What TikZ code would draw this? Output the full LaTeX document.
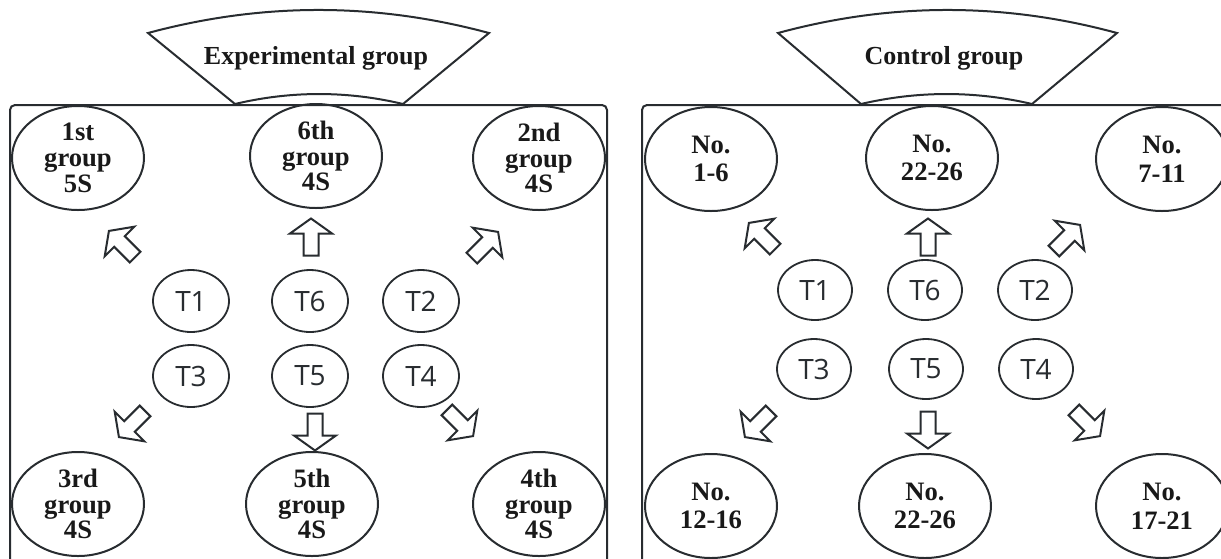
\documentclass[tikz,border=0pt]{standalone}
\usepackage{fontspec}
\setmainfont{Liberation Serif}
\newfontfamily\tfont{Open Sans}
\usetikzlibrary{shapes.geometric}
\definecolor{ink}{RGB}{40,44,48}
\definecolor{txt}{RGB}{25,25,25}
\tikzset{
  frame/.style={draw=ink, line width=1pt, rounded corners=2.5pt},
  banner/.style={draw=ink, line width=1pt, line join=miter},
  grp/.style={ellipse, draw=ink, line width=1pt, inner sep=0pt, minimum width=66pt, minimum height=52pt,
    align=center, text=txt, font=\fontsize{13.3pt}{12.9pt}\selectfont\bfseries},
  nogrp/.style={grp, font=\fontsize{13.3pt}{14.3pt}\selectfont\bfseries},
  tnode/.style={ellipse, draw=ink, line width=0.9pt, inner sep=0pt, minimum width=38pt, minimum height=31pt,
    text=ink, font=\tfont\fontsize{14pt}{14pt}\selectfont},
  tnoder/.style={tnode, minimum width=37pt, minimum height=30pt},
  title/.style={text=txt, font=\fontsize{13pt}{14pt}\selectfont\bfseries},
  arrowline/.style={draw=ink, line width=1pt, line join=miter, fill=white},
  blockarrow/.pic={\draw[arrowline] (-18.5,-7.5) -- (3.5,-7.5) -- (3.5,-21) -- (18.5,0) -- (3.5,21) -- (3.5,7.5) -- (-18.5,7.5) -- cycle;}
}
\begin{document}
\begin{tikzpicture}[x={(0.5pt,0)}, y={(0,-0.5pt)}]
\useasboundingbox (0,0) rectangle (1221,558);
\clip (0,0) rectangle (1221,558);
% panels
\draw[frame] (10,590) -- (10,105) -- (607,105) -- (607,590);
\draw[frame] (642,590) -- (642,105) -- (1260,105);
% banners
\draw[banner] (148,33) .. controls (262,2.3) and (375,2.3) .. (489,33) -- (403,104)
  .. controls (347,90.7) and (291,90.7) .. (235,104) -- cycle;
\node[title] (exptitle) at (316,58) {Experimental group};
\draw[banner] (778,33) .. controls (891,2.3) and (1004,2.3) .. (1117,33) -- (1032,104)
  .. controls (975,90.7) and (918,90.7) .. (861,104) -- cycle;
\node[title] (ctltitle) at (944,58) {Control group};
% left groups
\node[grp] (g1) at (78,158) {1st\\group\\5S};
\node[grp] (g6) at (316,156) {6th\\group\\4S};
\node[grp] (g2) at (539,158) {2nd\\group\\4S};
\node[grp] (g3) at (78,504) {3rd\\group\\4S};
\node[grp] (g5) at (312,504) {5th\\group\\4S};
\node[grp] (g4) at (539,504) {4th\\group\\4S};
% left teachers
\node[tnode] (lt1) at (191,301) {T1};
\node[tnode] (lt6) at (310,301) {T6};
\node[tnode] (lt2) at (421,301) {T2};
\node[tnode] (lt3) at (191,376) {T3};
\node[tnode] (lt5) at (310,376) {T5};
\node[tnode] (lt4) at (421,376) {T4};
% left arrows
\pic[rotate=135] at (122,244) {blockarrow};
\pic[rotate=90] at (311,237) {blockarrow};
\pic[rotate=45] at (485,245) {blockarrow};
\pic[rotate=225] at (132,424) {blockarrow};
\pic[rotate=270] at (315,432) {blockarrow};
\pic[rotate=315] at (460,423) {blockarrow};
% right groups
\node[nogrp] (c1) at (711,159) {No.\\1-6};
\node[nogrp] (c6) at (932,158) {No.\\22-26};
\node[nogrp] (c2) at (1162,159) {No.\\7-11};
\node[nogrp] (c3) at (711,506) {No.\\12-16};
\node[nogrp] (c5) at (925,506) {No.\\22-26};
\node[nogrp] (c4) at (1162,506) {No.\\17-21};
% right teachers
\node[tnoder] (rt1) at (815,290) {T1};
\node[tnoder] (rt6) at (925,290) {T6};
\node[tnoder] (rt2) at (1035,290) {T2};
\node[tnoder] (rt3) at (814,369) {T3};
\node[tnoder] (rt5) at (926,369) {T5};
\node[tnoder] (rt4) at (1036,369) {T4};
% right arrows
\pic[rotate=135] at (762,236) {blockarrow};
\pic[rotate=90] at (928,237) {blockarrow};
\pic[rotate=45] at (1067,238) {blockarrow};
\pic[rotate=225] at (758,424) {blockarrow};
\pic[rotate=270] at (928,430) {blockarrow};
\pic[rotate=315] at (1087,423) {blockarrow};
\end{tikzpicture}
\end{document}
